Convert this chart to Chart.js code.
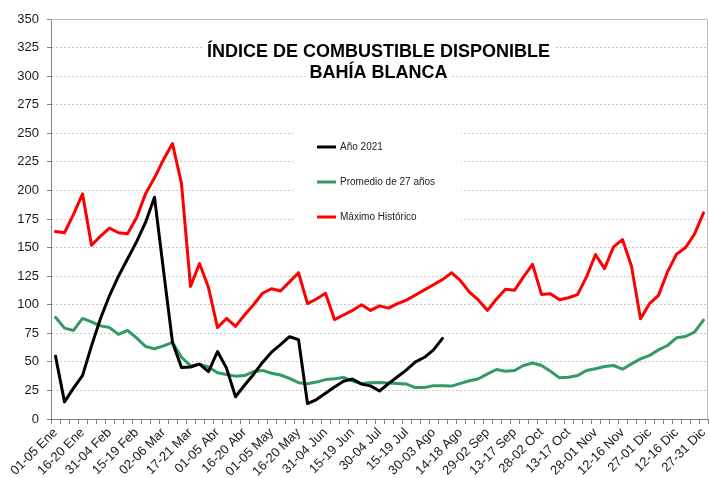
<!DOCTYPE html>
<html>
<head>
<meta charset="utf-8">
<script src="https://cdn.jsdelivr.net/npm/chart.js@4"></script>
<style>
  html, body { margin: 0; padding: 0; background: #fff; }
  #wrap { width: 709px; height: 478px; }
</style>
</head>
<body>
<div id="wrap"><canvas id="c" width="709" height="478"></canvas></div>
<script>
const categories = [
  "01-05 Ene","06-10 Ene","11-15 Ene","16-20 Ene","21-25 Ene","26-30 Ene",
  "31-04 Feb","05-09 Feb","10-14 Feb","15-19 Feb","20-24 Feb","25-01 Mar",
  "02-06 Mar","07-11 Mar","12-16 Mar","17-21 Mar","22-26 Mar","27-31 Mar",
  "01-05 Abr","06-10 Abr","11-15 Abr","16-20 Abr","21-25 Abr","26-30 Abr",
  "01-05 May","06-10 May","11-15 May","16-20 May","21-25 May","26-30 May",
  "31-04 Jun","05-09 Jun","10-14 Jun","15-19 Jun","20-24 Jun","25-29 Jun",
  "30-04 Jul","05-09 Jul","10-14 Jul","15-19 Jul","20-24 Jul","25-29 Jul",
  "30-03 Ago","04-08 Ago","09-13 Ago","14-18 Ago","19-23 Ago","24-28 Ago",
  "29-02 Sep","03-07 Sep","08-12 Sep","13-17 Sep","18-22 Sep","23-27 Sep",
  "28-02 Oct","03-07 Oct","08-12 Oct","13-17 Oct","18-22 Oct","23-27 Oct",
  "28-01 Nov","02-06 Nov","07-11 Nov","12-16 Nov","17-21 Nov","22-26 Nov",
  "27-01 Dic","02-06 Dic","07-11 Dic","12-16 Dic","17-21 Dic","22-26 Dic",
  "27-31 Dic"
];

const anio2021 = [
  55, 15, 27, 38, 64, 88, 108, 125, 140, 155,
  172, 194, 130, 67, 45, 45.5, 48, 41.5, 59, 44.5,
  19.5, 29.5, 39, 49.5, 58.5, 65, 72, 69.5, 13.5, 17,
  22.5, 28, 33, 35, 30.5, 29, 24.5, 31, 37, 43,
  50, 54, 60.5, 70.5,
  null, null, null, null, null, null, null, null, null, null,
  null, null, null, null, null, null, null, null, null, null,
  null, null, null, null, null, null, null, null, null
];

const promedio27 = [
  89, 79.5, 77.5, 88, 85, 81.5, 80, 74, 77.5, 71,
  63.5, 61.5, 64, 67, 54, 46.5, 48, 45.5, 40.5, 39,
  37.5, 38, 41.5, 42.5, 40, 38.5, 35.5, 31.8, 30.8, 32.3,
  34.5, 35.3, 36.3, 33.3, 31, 31.7, 32, 31.5, 31, 30.6,
  27.5, 27.5, 29.2, 29, 28.8, 31.2, 33.5, 35.2, 39.5, 43.3,
  41.8, 42.4, 46.8, 49, 46.8, 41.8, 36, 36.5, 38, 42.4,
  44, 46, 46.8, 43.6, 48.2, 52.6, 55.6, 60.5, 64.3, 71,
  72.2, 76, 86.5
];

const maximoHistorico = [
  164, 163, 179, 197, 152, 160, 167, 163, 162, 176,
  197, 211, 227, 241, 206, 116, 136, 115, 80, 88,
  81, 91, 100, 110, 114, 112, 120, 128, 101, 105,
  110, 87, 91, 95, 100, 95, 99, 97, 101, 104,
  108.5, 113, 117.5, 122, 128, 121, 111, 104, 95, 105,
  113.5, 112.6, 124.3, 135.4, 109, 109.6, 104.4, 106.1, 108.8, 124.3,
  143.9, 131.6, 150.6, 157, 133.6, 87.7, 100.9, 108.2, 128.7, 144.2,
  150, 161.7, 180.4
];

const titleLines = ["ÍNDICE DE COMBUSTIBLE DISPONIBLE", "BAHÍA BLANCA"];
const seriesNames = ["Año 2021", "Promedio de 27 años", "Máximo Histórico"];

const FONT = "'Liberation Sans', Arial, sans-serif";

const overlayPlugin = {
  id: 'overlay',
  beforeDatasetsDraw(chart) {
    const ctx = chart.ctx;
    const ca = chart.chartArea;
    const cx = (ca.left + ca.right) / 2 - 1;
    ctx.save();
    ctx.fillStyle = '#ffffff';
    ctx.font = "bold 18px " + FONT;
    const w1 = ctx.measureText(titleLines[0]).width;
    const w2 = ctx.measureText(titleLines[1]).width;
    ctx.fillRect(cx - w1 / 2 - 4, ca.top + 18, w1 + 8, 23);
    ctx.fillRect(cx - w2 / 2 - 4, ca.top + 42, w2 + 8, 21);
    // legend box
    ctx.fillRect(293, 121, 168, 115);
    // top / right frame
    ctx.strokeStyle = '#bdbdbd';
    ctx.lineWidth = 1;
    ctx.beginPath();
    ctx.moveTo(ca.left, ca.top + 0.5);
    ctx.lineTo(ca.right - 0.5, ca.top + 0.5);
    ctx.lineTo(ca.right - 0.5, ca.bottom);
    ctx.stroke();
    ctx.restore();
  },
  afterDatasetsDraw(chart) {
    const ctx = chart.ctx;
    const ca = chart.chartArea;
    const cx = (ca.left + ca.right) / 2 - 1;
    ctx.save();
    ctx.fillStyle = '#000000';
    ctx.font = "bold 18px " + FONT;
    ctx.textAlign = 'center';
    ctx.textBaseline = 'alphabetic';
    ctx.fillText(titleLines[0], cx, ca.top + 38);
    ctx.fillText(titleLines[1], cx, ca.top + 59);
    // legend
    const ys = [147, 182, 217];
    ctx.font = "10px " + FONT;
    ctx.textAlign = 'left';
    ctx.textBaseline = 'middle';
    chart.data.datasets.forEach((ds, i) => {
      ctx.strokeStyle = ds.borderColor;
      ctx.lineWidth = 3;
      ctx.beginPath();
      ctx.moveTo(317, ys[i]);
      ctx.lineTo(336, ys[i]);
      ctx.stroke();
      ctx.fillStyle = '#222222';
      ctx.fillText(ds.label, 340, ys[i] + 0.5);
    });
    ctx.restore();
  }
};

new Chart(document.getElementById('c'), {
  type: 'line',
  data: {
    labels: categories,
    datasets: [
      { label: seriesNames[0], data: anio2021, borderColor: '#000000', backgroundColor: '#000000' },
      { label: seriesNames[1], data: promedio27, borderColor: '#339966', backgroundColor: '#339966' },
      { label: seriesNames[2], data: maximoHistorico, borderColor: '#ff0000', backgroundColor: '#ff0000' }
    ]
  },
  options: {
    responsive: false,
    animation: false,
    devicePixelRatio: 1,
    layout: { padding: { top: 19, right: 1, left: 0, bottom: 0 } },
    elements: {
      line: { borderWidth: 3, tension: 0, borderJoinStyle: 'round', borderCapStyle: 'round' },
      point: { radius: 0, hoverRadius: 0 }
    },
    plugins: {
      legend: { display: false },
      title: { display: false },
      tooltip: { enabled: false }
    },
    scales: {
      x: {
        type: 'category',
        offset: true,
        afterFit(scale) { scale.height = 59; scale.paddingLeft = 0; scale.paddingRight = 0; },
        grid: {
          offset: true,
          drawOnChartArea: false,
          drawTicks: true,
          tickLength: 5,
          tickColor: '#808080',
          tickWidth: 1
        },
        border: { display: true, color: '#808080', width: 1 },
        ticks: {
          autoSkip: false,
          maxRotation: 45,
          minRotation: 45,
          padding: 1,
          color: '#1a1a1a',
          font: { family: FONT, size: 13 },
          callback(value, index) { return index % 3 === 0 ? this.getLabelForValue(value) : ''; }
        }
      },
      y: {
        min: 0,
        max: 350,
        afterFit(scale) { scale.width = 51; },
        grid: {
          color: '#c8c8c8',
          lineWidth: 1,
          tickLength: 4,
          tickColor: '#808080',
          tickBorderDash: []
        },
        border: { display: true, color: '#808080', width: 1, dash: [2, 2] },
        ticks: {
          stepSize: 25,
          padding: 8,
          color: '#1a1a1a',
          font: { family: FONT, size: 13 }
        }
      }
    }
  },
  plugins: [overlayPlugin]
});
</script>
</body>
</html>
